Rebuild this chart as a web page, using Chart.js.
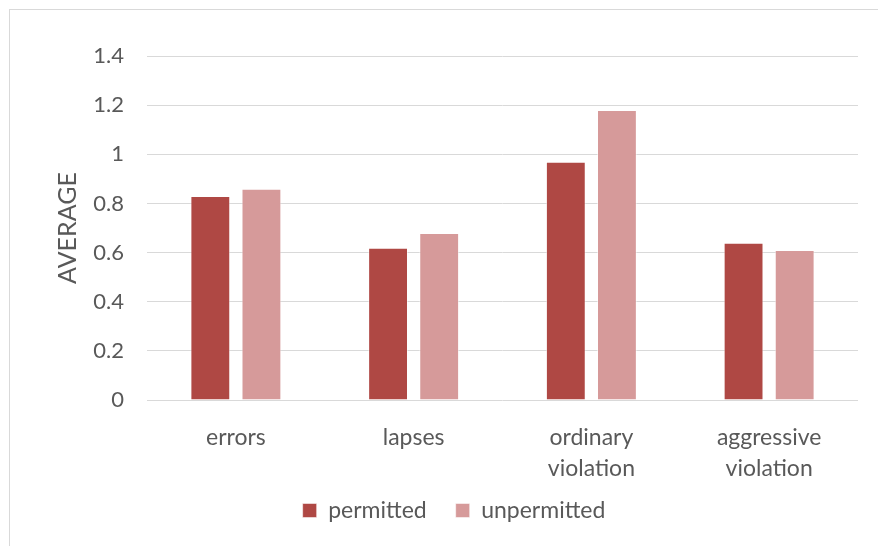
<!DOCTYPE html>
<html>
<head>
<meta charset="utf-8">
<script src="https://cdn.jsdelivr.net/npm/chart.js@4"></script>
<style>
  html, body { margin: 0; padding: 0; background: #fff; }
  #wrap { position: relative; width: 878px; height: 546px; }
  #frame {
    position: absolute; left: 9px; top: 9px; right: 0; bottom: 0;
    border-left: 1px solid #d9d9d9; border-top: 1px solid #d9d9d9;
  }
  #myBarGraph { position: absolute; left: 0; top: 0; }
</style>
</head>
<body>
<div id="wrap">
  <div id="frame"></div>
  <canvas id="myBarGraph" width="878" height="546"></canvas>
</div>
<script>
var categories = ["errors", "lapses", ["ordinary", "violation"], ["aggressive", "violation"]];
var permitted = [0.83, 0.62, 0.97, 0.64];
var unpermitted = [0.86, 0.68, 1.18, 0.61];
var yTicks = [0, 0.2, 0.4, 0.6, 0.8, 1, 1.2, 1.4];

var textColor = "#595959";
var gridColor = "#d9d9d9";
var fontFamily = "Lato, 'Open Sans', sans-serif";

var bars = document.getElementById("myBarGraph").getContext("2d");

var myBarGraph = new Chart(bars, {
  type: "bar",
  data: {
    labels: categories,
    datasets: [
      {
        label: "permitted",
        data: permitted,
        backgroundColor: "#af4844",
        borderColor: "rgba(255, 255, 255, 0.5)",
        borderWidth: 1
      },
      {
        label: "unpermitted",
        data: unpermitted,
        backgroundColor: "#d69a9a",
        borderColor: "rgba(255, 255, 255, 0.5)",
        borderWidth: 1
      }
    ]
  },
  options: {
    responsive: false,
    animation: false,
    categoryPercentage: 0.575,
    barPercentage: 0.78,
    layout: {
      padding: { top: 56, left: 50, right: 20, bottom: 14 }
    },
    plugins: {
      tooltip: { enabled: false },
      legend: {
        display: true,
        position: "bottom",
        labels: {
          boxWidth: 14,
          boxHeight: 14,
          padding: 29,
          color: textColor,
          font: { family: fontFamily, size: 23 }
        }
      }
    },
    scales: {
      x: {
        grid: { display: false, drawTicks: false },
        border: { display: false },
        ticks: {
          color: textColor,
          padding: 22,
          maxRotation: 0,
          autoSkip: false,
          font: { family: fontFamily, size: 23, lineHeight: "31px" }
        },
        afterFit: function (scale) {
          scale.height = 70;
          // let the second label line run below the axis box
          scale._computeLabelArea = function () { return undefined; };
        }
      },
      y: {
        min: 0,
        max: 1.4,
        afterBuildTicks: function (scale) {
          scale.ticks = yTicks.map(function (v) { return { value: v }; });
        },
        grid: { color: gridColor, lineWidth: 1, drawTicks: false },
        border: { display: false },
        ticks: {
          color: textColor,
          padding: 23,
          font: { family: fontFamily, size: 22 },
          callback: function (value) { return String(Math.round(value * 10) / 10); }
        },
        title: {
          display: true,
          text: "AVERAGE",
          color: textColor,
          padding: { top: 3, bottom: 0 },
          font: { family: fontFamily, size: 25 }
        },
        afterFit: function (scale) {
          scale.width = 97;
        }
      }
    }
  }
});
</script>
</body>
</html>
